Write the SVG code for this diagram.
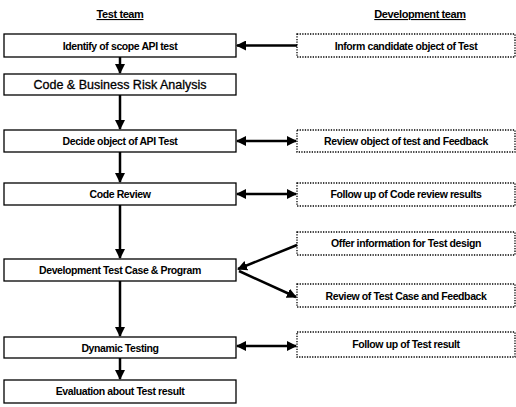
<svg xmlns="http://www.w3.org/2000/svg" width="516" height="407" viewBox="0 0 516 407">
<defs>
<marker id="ah" viewBox="0 0 10 10" refX="9" refY="5" markerWidth="4" markerHeight="4" orient="auto-start-reverse" markerUnits="strokeWidth">
<path d="M0,0 L10,5 L0,10 z" fill="#000"/>
</marker>
<style>
.box{fill:#fff;stroke:#000;stroke-width:1.3}
.dbox{fill:#fff;stroke:#000;stroke-width:1.3;stroke-dasharray:1.3 1.3}
.t{font-family:"Liberation Sans",Arial,sans-serif;font-size:10.5px;font-weight:bold;text-anchor:middle;letter-spacing:-0.4px}
.t2{font-family:"Liberation Sans",Arial,sans-serif;font-size:12.5px;text-anchor:middle;stroke:#000;stroke-width:0.3}
.h{font-family:"Liberation Sans",Arial,sans-serif;font-size:11px;font-weight:bold;text-anchor:middle;text-decoration:underline;letter-spacing:-0.4px}
.c{fill:none;stroke:#000;stroke-width:2.5}
</style>
</defs>
<rect width="516" height="407" fill="#fff"/>
<text class="h" x="120" y="18">Test team</text>
<text class="h" x="420" y="18">Development team</text>

<g id="n1"><rect class="box" x="4" y="34" width="232" height="23"/><text class="t" x="120" y="49.5">Identify of scope API test</text></g>
<g id="n2"><rect class="box" x="4" y="74" width="232" height="21"/><text class="t2" x="120" y="89">Code &amp; Business Risk Analysis</text></g>
<g id="n3"><rect class="box" x="4" y="130" width="232" height="22"/><text class="t" x="120" y="145">Decide object of API Test</text></g>
<g id="n4"><rect class="box" x="4" y="183" width="232" height="22"/><text class="t" x="120" y="198">Code Review</text></g>
<g id="n5"><rect class="box" x="4" y="259" width="232" height="22"/><text class="t" x="120" y="274">Development Test Case &amp; Program</text></g>
<g id="n6"><rect class="box" x="4" y="337" width="232" height="21"/><text class="t" x="120" y="352">Dynamic Testing</text></g>
<g id="n7"><rect class="box" x="4" y="380" width="232" height="23"/><text class="t" x="120" y="395">Evaluation about Test result</text></g>

<g id="r1"><rect class="dbox" x="297" y="34" width="218" height="23"/><text class="t" x="406" y="49.5">Inform candidate object of Test</text></g>
<g id="r2"><rect class="dbox" x="297" y="130" width="218" height="22"/><text class="t" x="406" y="145">Review  object of test and Feedback</text></g>
<g id="r3"><rect class="dbox" x="297" y="183" width="218" height="23"/><text class="t" x="406" y="198">Follow up of Code review results</text></g>
<g id="r4"><rect class="dbox" x="297" y="232" width="218" height="23"/><text class="t" x="406" y="247">Offer information for Test design</text></g>
<g id="r5"><rect class="dbox" x="297" y="284" width="218" height="23"/><text class="t" x="406" y="299.5">Review of Test Case and  Feedback</text></g>
<g id="r6"><rect class="dbox" x="297" y="332" width="218" height="25"/><text class="t" x="406" y="348">Follow up of Test result</text></g>

<g id="connectors">
<line class="c" x1="120" y1="57" x2="120" y2="73" marker-end="url(#ah)"/>
<line class="c" x1="120" y1="95" x2="120" y2="129" marker-end="url(#ah)"/>
<line class="c" x1="120" y1="152" x2="120" y2="182" marker-end="url(#ah)"/>
<line class="c" x1="120" y1="205" x2="120" y2="258" marker-end="url(#ah)"/>
<line class="c" x1="120" y1="281" x2="120" y2="336" marker-end="url(#ah)"/>
<line class="c" x1="120" y1="358" x2="120" y2="379" marker-end="url(#ah)"/>
<line class="c" x1="297" y1="45.5" x2="237" y2="45.5" marker-end="url(#ah)"/>
<line class="c" x1="237" y1="141" x2="296" y2="141" marker-start="url(#ah)" marker-end="url(#ah)"/>
<line class="c" x1="237" y1="194" x2="296" y2="194" marker-start="url(#ah)" marker-end="url(#ah)"/>
<line class="c" x1="297" y1="245" x2="238" y2="269" marker-end="url(#ah)"/>
<line class="c" x1="239" y1="271" x2="296" y2="297" marker-end="url(#ah)"/>
<line class="c" x1="237" y1="346" x2="296" y2="346" marker-start="url(#ah)" marker-end="url(#ah)"/>
</g>
</svg>
